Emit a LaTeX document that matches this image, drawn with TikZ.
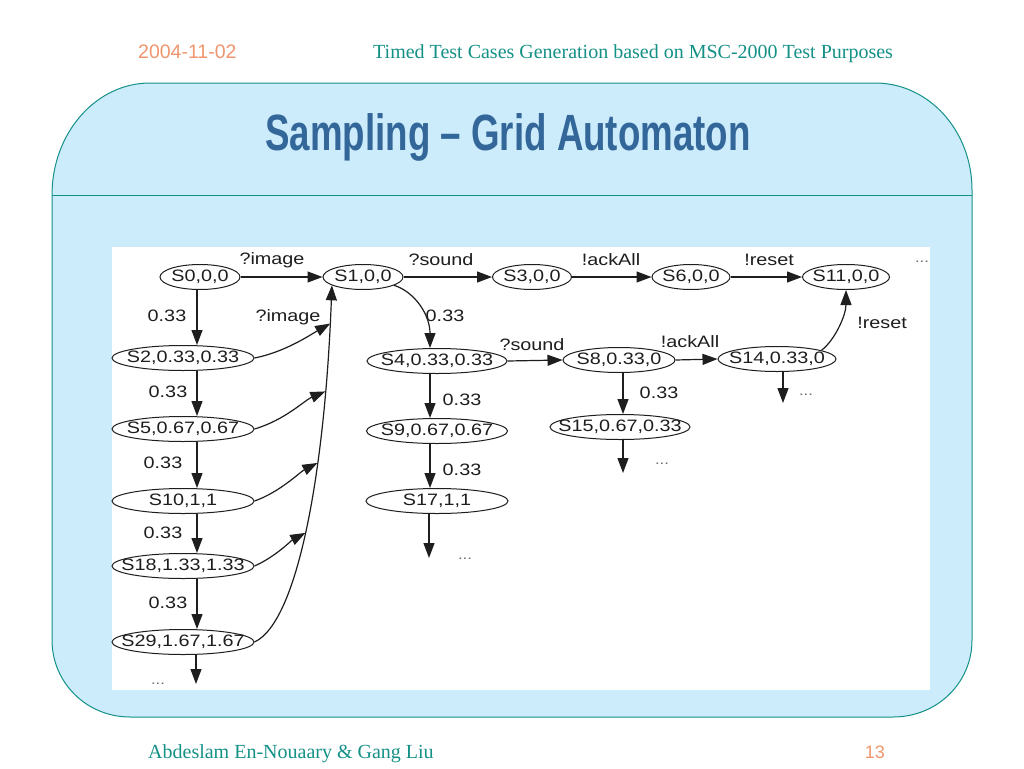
\documentclass[tikz,border=0pt]{standalone}
\usepackage{fontspec}
\setmainfont{Liberation Serif}
\newfontfamily\gfont[FakeStretch=1.2]{Liberation Sans}
\newfontfamily\tfont[FakeStretch=0.72]{Liberation Sans}
\newfontfamily\hsans{Liberation Sans}
\usetikzlibrary{shapes.geometric,arrows.meta}
\definecolor{slideblue}{RGB}{204,236,252}
\definecolor{tealA}{RGB}{20,145,135}
\definecolor{titleblue}{RGB}{51,102,153}
\definecolor{orangeA}{RGB}{240,150,110}
\definecolor{ink}{RGB}{30,30,30}
\newcommand{\zw}[1]{\makebox[0pt]{#1}}
\tikzset{
  st/.style={ellipse, draw=ink, line width=1pt, inner sep=0pt, minimum height=25pt, text=ink,
             font=\gfont\fontsize{16.5}{19}\selectfont},
  arr/.style={draw=ink, line width=1.2pt, -{Triangle[length=15pt,width=11pt]}},
  lab/.style={inner sep=0pt, text=ink, font=\gfont\fontsize{16.5}{19}\selectfont},
  dots/.style={inner sep=0pt, text=ink!65, font=\gfont\fontsize{14}{16}\selectfont},
}
\begin{document}
\begin{tikzpicture}[x=1pt,y=-1pt]
\useasboundingbox (0,0) rectangle (1024,768);
\fill[white] (0,0) rectangle (1024,768);
% slide frame
\draw[tealA, line width=1pt, fill=slideblue]
  (52,195) .. controls (52,133) and (96,83) .. (150,83) -- (875,83)
  .. controls (929,83) and (972,131) .. (972,190) -- (972,640)
  .. controls (972,683) and (937,717) .. (893,717) -- (130,717)
  .. controls (87,717) and (52,683) .. (52,640) -- cycle;
\draw[tealA, line width=1pt] (52,195) -- (972,195);
\fill[white] (112,247) rectangle (930,690);
% header / footer / title
\node[anchor=base west, text=orangeA, font=\hsans\fontsize{19.5}{22}\selectfont, inner sep=0pt] (date) at (138,59) {2004-11-02};
\node[anchor=base west, text=tealA, font=\fontsize{20}{24}\selectfont, inner sep=0pt] (hdr) at (373,59) {Timed Test Cases Generation based on MSC-2000 Test Purposes};
\node[anchor=base, text=titleblue, font=\tfont\bfseries\fontsize{51}{56}\selectfont, inner sep=0pt] (title) at (508,150) {Sampling – Grid Automaton};
\node[anchor=base west, text=tealA, font=\fontsize{20}{24}\selectfont, inner sep=0pt] (foot) at (148,758) {Abdeslam En-Nouaary \& Gang Liu};
\node[anchor=base east, text=orangeA, font=\hsans\fontsize{18}{22}\selectfont, inner sep=0pt] (pg) at (885,758) {13};
% states
\node[st, minimum width=80pt] (S0) at (200,277) {\zw{S0,0,0}};
\node[st, minimum width=80pt] (S1) at (363,277) {\zw{S1,0,0}};
\node[st, minimum width=79pt] (S3) at (532,277) {\zw{S3,0,0}};
\node[st, minimum width=78pt] (S6) at (691,277) {\zw{S6,0,0}};
\node[st, minimum width=87pt] (S11) at (846,277) {\zw{S11,0,0}};
\node[st, minimum width=142pt] (S2) at (183,358) {\zw{S2,0.33,0.33}};
\node[st, minimum width=142pt] (S5) at (183,429) {\zw{S5,0.67,0.67}};
\node[st, minimum width=142pt] (S10) at (183,501) {\zw{S10,1,1}};
\node[st, minimum width=142pt] (S18) at (183,566) {\zw{S18,1.33,1.33}};
\node[st, minimum width=142pt] (S29) at (183,642) {\zw{S29,1.67,1.67}};
\node[st, minimum width=140pt] (S4) at (437,361) {\zw{S4,0.33,0.33}};
\node[st, minimum width=141pt] (S9) at (437,431) {\zw{S9,0.67,0.67}};
\node[st, minimum width=142pt] (S17) at (437,501) {\zw{S17,1,1}};
\node[st, minimum width=112pt] (S8) at (619,360) {\zw{S8,0.33,0}};
\node[st, minimum width=140pt] (S15) at (620,427) {\zw{S15,0.67,0.33}};
\node[st, minimum width=118pt] (S14) at (777,359) {\zw{S14,0.33,0}};
% continuation marks
\node[dots] (d11) at (922,262) {...};
\node[dots] (d29) at (158,684) {...};
\node[dots] (d17) at (465,559) {...};
\node[dots] (d15) at (662,464) {...};
\node[dots] (d14) at (806,395) {...};
\coordinate (cA) at (197,0);
\coordinate (cB) at (430,0);
\coordinate (cC) at (623,0);
\coordinate (e29) at (196,684);
\coordinate (e17) at (429,558);
\coordinate (e15) at (623,473);
\coordinate (e14) at (783,403);
% edge labels
\node[lab] (l01) at (272,260) {?image};
\node[lab] (l13) at (441,260) {?sound};
\node[lab] (l36) at (611,260) {!ackAll};
\node[lab] (l611) at (769,260) {!reset};
\node[lab] (l02) at (167,316) {0.33};
\node[lab] (l25) at (168,392) {0.33};
\node[lab] (l510) at (163,463) {0.33};
\node[lab] (l1018) at (163,533) {0.33};
\node[lab] (l1829) at (168,603) {0.33};
\node[lab] (l21) at (288,317) {?image};
\node[lab] (l14) at (445,316) {0.33};
\node[lab] (l49) at (462,400) {0.33};
\node[lab] (l917) at (462,470) {0.33};
\node[lab] (l48) at (532,345) {?sound};
\node[lab] (l815) at (659,393) {0.33};
\node[lab] (l814) at (690,342) {!ackAll};
\node[lab] (l1411) at (882,323) {!reset};
% top row
\draw[arr] (S0.east) -- (S1.west);
\draw[arr] (S1.east) -- (S3.west);
\draw[arr] (S3.east) -- (S6.west);
\draw[arr] (S6.east) -- (S11.west);
% left column
\draw[arr] (cA |- S0.south) -- (cA |- S2.north);
\draw[arr] (cA |- S2.south) -- (cA |- S5.north);
\draw[arr] (cA |- S5.south) -- (cA |- S10.north);
\draw[arr] (cA |- S10.south) -- (cA |- S18.north);
\draw[arr] (cA |- S18.south) -- (cA |- S29.north);
\draw[arr] (e29 |- S29.south) -- (e29);
% merged edges into S1
\draw[arr] (S29.east) .. controls (298,622) and (325,470) .. coordinate[pos=0.48] (m4) coordinate[pos=0.65] (m3) coordinate[pos=0.8] (m2) coordinate[pos=0.93] (m1) (S1.195);
\draw[arr] (S2.east) .. controls (285,352) and (310,335) .. (m1);
\draw[arr] (S5.east) .. controls (285,420) and (305,400) .. (m2);
\draw[arr] (S10.east) .. controls (280,492) and (300,472) .. (m3);
\draw[arr] (S18.east) .. controls (275,557) and (292,540) .. (m4);
% middle
\draw[arr] (S1.345) .. controls (415,292) and (430,315) .. (cB |- S4.north);
\draw[arr] (cB |- S4.south) -- (cB |- S9.north);
\draw[arr] (cB |- S9.south) -- (cB |- S17.north);
\draw[arr] (e17 |- S17.south) -- (e17);
\draw[arr] (S4.east) -- (S8.west);
\draw[arr] (cC |- S8.south) -- (cC |- S15.north);
\draw[arr] (e15 |- S15.south) -- (e15);
\draw[arr] (S8.east) -- (S14.west);
\draw[arr] (S14.11) .. controls (835,340) and (846,315) .. (S11.south);
\draw[arr] (e14 |- S14.south) -- (e14);
\end{tikzpicture}
\end{document}
